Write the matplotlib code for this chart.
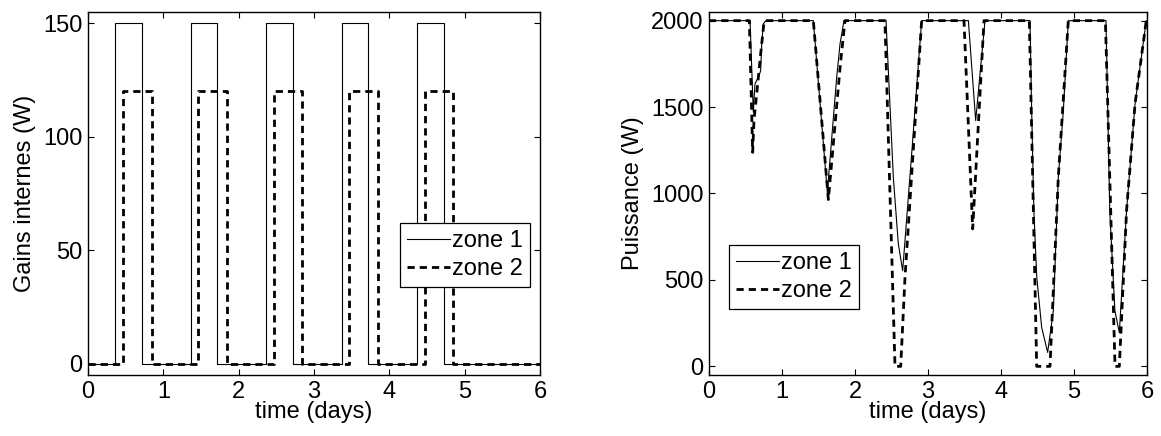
import matplotlib
matplotlib.use("Agg")
import matplotlib.pyplot as plt
import numpy as np

plt.rcParams['font.family'] = ['Liberation Sans', 'DejaVu Sans']
FS = 17

# ---- Left panel data: internal gains (W) ----
z1_on = [0.365, 1.365, 2.368, 3.369, 4.369]
z1_off = [0.720, 1.717, 2.722, 3.723, 4.724]
z1_level = 150
z2_on = [0.460, 1.465, 2.467, 3.471, 4.475]
z2_off = [0.846, 1.846, 2.843, 3.848, 4.851]
z2_level = 120
t_end = 6.0

# ---- Right panel data: power (W) ----
p1_t = [0.0, 0.562, 0.607, 0.630, 0.676, 0.708, 0.722, 0.744, 0.780,
        1.429, 1.621, 1.749, 1.795, 1.849,
        2.425, 2.525, 2.593, 2.653, 2.780, 2.913,
        3.553, 3.653, 3.781,
        4.397, 4.420, 4.450, 4.490, 4.557, 4.639, 4.717, 4.785, 4.854, 4.922,
        5.438, 5.490, 5.560, 5.621, 5.720, 5.836, 5.990, 6.0]
p1_v = [2000, 2000, 1470, 1634, 1672, 1711, 1866, 1981, 2000,
        2000, 1007, 1672, 1866, 2000,
        2000, 1094, 710, 554, 1250, 2000,
        2000, 1422, 2000,
        2000, 1480, 900, 515, 226, 81, 322, 1094, 1480, 2000,
        2000, 900, 322, 195, 901, 1518, 2000, 2000]

p2_t = [0.0, 0.553, 0.598, 0.616, 0.676, 0.708, 0.753, 0.770,
        1.429, 1.635, 1.703, 1.800, 1.863,
        2.410, 2.548, 2.626, 2.685, 2.913,
        3.493, 3.612, 3.767,
        4.388, 4.489, 4.671, 4.785, 4.922,
        5.430, 5.562, 5.621, 5.720, 5.836, 5.990, 6.0]
p2_v = [2000, 2000, 1238, 1422, 1672, 1808, 1990, 2000,
        2000, 965, 1287, 1750, 2000,
        2000, 0, 0, 515, 2000,
        2000, 795, 2000,
        2000, 0, 0, 1094, 2000,
        2000, 0, 0, 901, 1518, 2000, 2000]


def step_series(ons, offs, level, tend):
    t = [0.0]
    v = [0.0]
    for a, b in zip(ons, offs):
        t += [a, a, b, b]
        v += [0.0, level, level, 0.0]
    t.append(tend)
    v.append(0.0)
    return t, v


fig = plt.figure(figsize=(11.61, 4.36), dpi=100)
ax1 = fig.add_axes([88/1161, 1-375/436, 452/1161, 363/436])
ax2 = fig.add_axes([709/1161, 1-375/436, 438/1161, 363/436])

solid_kw = dict(color='black', lw=0.8, linestyle='-')
dash_kw = dict(color='black', lw=2.0, linestyle=(0, (2.6, 1.8)))

leg_kw = dict(fontsize=FS, handlelength=1.8, handletextpad=0.1,
              labelspacing=0.25, borderpad=0.3, borderaxespad=0,
              fancybox=False, framealpha=1, edgecolor='black')

t1, g1 = step_series(z1_on, z1_off, z1_level, t_end)
t2, g2 = step_series(z2_on, z2_off, z2_level, t_end)
ax1.plot(t1, g1, label='zone 1', **solid_kw)
ax1.plot(t2, g2, label='zone 2', **dash_kw)
ax1.set_xlim(0, 6)
ax1.set_ylim(-5, 155)
ax1.set_yticks([0, 50, 100, 150])
ax1.set_xlabel('time (days)', fontsize=FS, labelpad=-1)
ax1.set_ylabel('Gains internes (W)', fontsize=FS, labelpad=5)
leg1 = ax1.legend(loc='upper right', bbox_to_anchor=(0.978, 0.419), **leg_kw)
leg1.get_frame().set_linewidth(0.9)

ax2.plot(p1_t, p1_v, label='zone 1', **solid_kw)
ax2.plot(p2_t, p2_v, label='zone 2', **dash_kw)
ax2.set_xlim(0, 6)
ax2.set_ylim(-50, 2050)
ax2.set_yticks([0, 500, 1000, 1500, 2000])
ax2.set_xlabel('time (days)', fontsize=FS, labelpad=-1)
ax2.set_ylabel('Puissance (W)', fontsize=FS, labelpad=5)
leg2 = ax2.legend(loc='upper left', bbox_to_anchor=(0.046, 0.358), **leg_kw)
leg2.get_frame().set_linewidth(0.9)

for ax in (ax1, ax2):
    ax.set_xticks([0, 1, 2, 3, 4, 5, 6])
    ax.tick_params(direction='in', top=True, right=True, length=4,
                   width=0.8, labelsize=FS, pad=4)
    for s in ax.spines.values():
        s.set_linewidth(1.0)

fig.savefig('out.png', dpi=100)
